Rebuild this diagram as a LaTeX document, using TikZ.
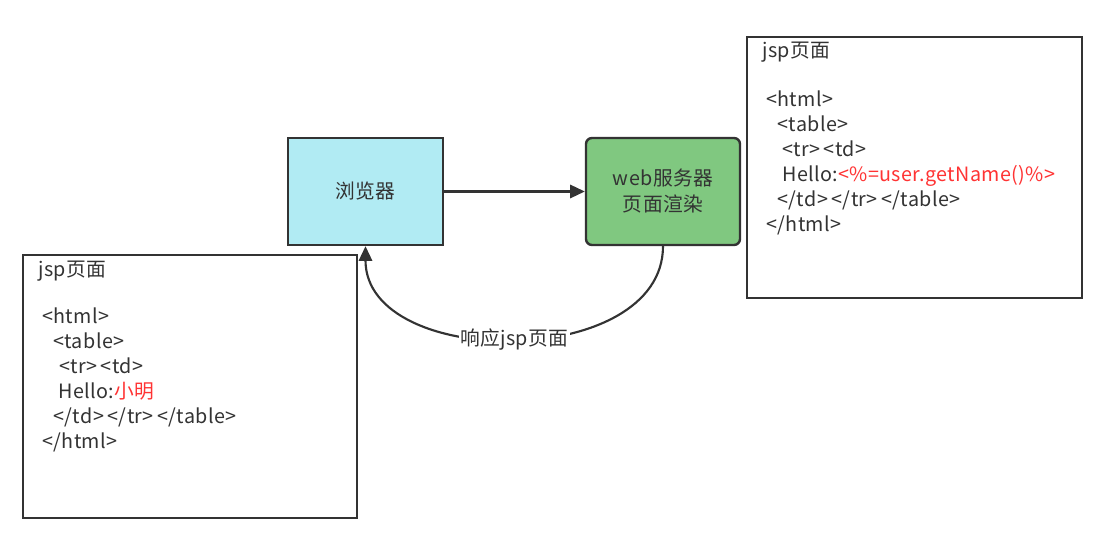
\documentclass[tikz,border=0pt]{standalone}
\usepackage{fontspec}
\setmainfont{Noto Sans CJK SC}[LetterSpace=2]
\usetikzlibrary{arrows.meta}
\definecolor{ink}{RGB}{51,51,51}
\definecolor{hot}{RGB}{255,51,51}
\definecolor{cyanfill}{RGB}{177,235,243}
\definecolor{greenfill}{RGB}{128,200,128}
\tikzset{
  txt/.style={font=\fontsize{14.8pt}{19pt}\selectfont, text=ink},
  block/.style={draw=ink, line width=1.8pt, inner sep=0pt, txt},
  page/.style={draw=ink, line width=1.8pt, inner sep=0pt, fill=white},
  code/.style={txt, anchor=base west, inner sep=0pt},
  link/.style={draw=ink, line width=1.6pt, -{Triangle[length=11pt,width=10pt]}},
}
\begin{document}
\begin{tikzpicture}[x=0.75pt,y=-0.75pt]
\useasboundingbox (0,0) rectangle (1118,534);

% the two pages of markup
\node[page, minimum width=251.25pt, minimum height=195.75pt] (jspsrc) at (914.5,167.5) {};
\node[page, minimum width=250.5pt, minimum height=197.25pt] (jspout) at (190,386.5) {};

% source page with the expression
\node[code] (s0) at (762,58) {jsp页面};
\node[code] (s1) at (766,107) {<html>};
\node[code] (s2) at (777,132) {<table>};
\node[code] (s3) at (782,157) {<tr>\,<td>};
\node[code] (s4) at (782,182) {Hello:\textcolor{hot}{<\%=user.getName()\%>}};
\node[code] (s5) at (777,207) {</td>\,</tr>\,</table>};
\node[code] (s6) at (766,232) {</html>};

% rendered page with the value filled in
\node[code] (r0) at (38,277) {jsp页面};
\node[code] (r1) at (42,324) {<html>};
\node[code] (r2) at (53,349) {<table>};
\node[code] (r3) at (59,374) {<tr>\,<td>};
\node[code] (r4) at (58,399) {Hello:\textcolor{hot}{小明}};
\node[code] (r5) at (53,424) {</td>\,</tr>\,</table>};
\node[code] (r6) at (42,449) {</html>};

% browser and server
\node[block, fill=cyanfill, minimum width=116.25pt, minimum height=80.25pt] (browser) at (365.5,191.5) {浏览器};
\node[block, fill=greenfill, rounded corners=4.5pt, minimum width=115.5pt, minimum height=80.25pt,
      align=center, font=\fontsize{14.8pt}{19.5pt}\selectfont] (server) at (663,191.5) {web服务器\\页面渲染};

% request and response
\draw[link] (browser.east) -- (server.west);
\draw[link] (server.south) .. controls +(0,124) and +(0,124) .. (browser.south)
  node[pos=0.5, fill=white, txt, inner sep=1pt] (resp) {响应jsp页面};
\end{tikzpicture}
\end{document}
